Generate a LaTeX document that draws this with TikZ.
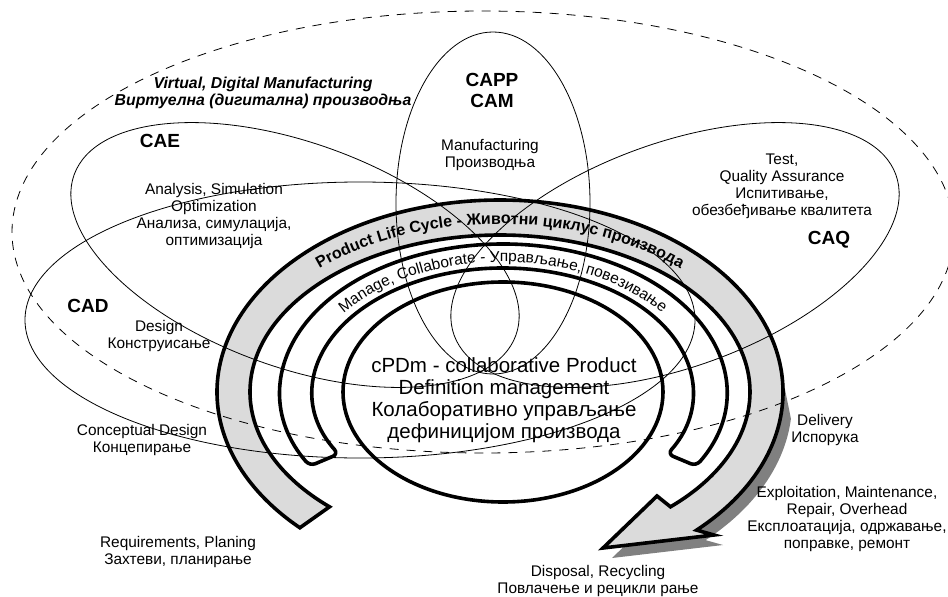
\documentclass[tikz,border=0pt]{standalone}
\usepackage{fontspec}
\setmainfont{Liberation Sans}
\usetikzlibrary{decorations.text}

\definecolor{bandgray}{gray}{0.86}
\definecolor{shadegray}{gray}{0.5}

\tikzset{
  zone/.style={line width=0.8pt},
  vzone/.style={line width=0.8pt, dash pattern=on 9pt off 8pt},
  ring/.style={line width=3.6pt},
  lbl/.style={align=center, inner sep=0pt, font=\fontsize{15.4}{16.9}\selectfont},
  sys/.style={align=center, inner sep=0pt, font=\fontsize{19}{21}\selectfont\bfseries},
}

\begin{document}
\begin{tikzpicture}[x=1pt, y=-1pt]
  \useasboundingbox (0,0) rectangle (948,597);
  \coordinate (lc) at (500,392);
  \coordinate (core) at (503,392);
  \coordinate (lcs) at (509,402);

  % shadow of the life cycle arrow
  \fill[shadegray]
    ([shift={(lc)}]-6:283 and 192)
    -- ([shift={(lcs)}]5:283 and 192) arc[start angle=5, end angle=46, x radius=283, y radius=192]
    -- (723,545) -- (612,558) -- (666,506)
    -- ([shift={(lc)}]35:266 and 174) -- ([shift={(lc)}]10:268 and 175) -- cycle;

  % life cycle arrow
  \draw[ring, fill=bandgray]
    ([shift={(lc)}]46:283 and 192) arc[start angle=46, end angle=-225, x radius=283, y radius=192]
    -- ([shift={(lc)}]-227:250 and 157) arc[start angle=-227, end angle=47, x radius=250, y radius=157]
    -- (657,496) -- (603,548) -- (714,535) -- cycle;

  % manage / collaborate ring
  \draw[ring, rounded corners=6pt]
    ([shift={(core)}]30:223 and 148) arc[start angle=30, end angle=-210, x radius=223, y radius=148]
    -- ([shift={(core)}]-210:190 and 124) arc[start angle=-210, end angle=30, x radius=190, y radius=124]
    -- cycle;

  % cPDm
  \draw[ring] (core) ellipse [x radius=160, y radius=110];

  % application areas
  \draw[vzone] (483,232) ellipse [x radius=471, y radius=221];
  \draw[zone] (360,320) ellipse [x radius=335, y radius=138];
  \draw[zone, rotate around={-20:(295,255)}] (295,255) ellipse [x radius=235, y radius=112];
  \draw[zone, rotate around={20:(675,255)}] (675,255) ellipse [x radius=235, y radius=112];
  \draw[zone] (493,203) ellipse [x radius=97, y radius=171];

  % curved texts
  \path[decorate, decoration={text along path, text align=center,
      text={|\fontsize{16}{16}\selectfont\bfseries|Product Life Cycle - Животни циклус производа}}]
    ([shift={(lc)}]-152:266 and 168) arc[start angle=-152, end angle=-28, x radius=266, y radius=168];
  \path[decorate, decoration={text along path, text align=center,
      text={|\fontsize{15.5}{15.5}\selectfont|Manage, Collaborate - Управљање, повезивање}}]
    ([shift={(core)}]-160:200 and 130) arc[start angle=-160, end angle=-20, x radius=200, y radius=130];

  % labels
  \node[font=\fontsize{15.8}{17}\selectfont\bfseries\itshape, align=center, inner sep=0pt] (virt) at (263,93)
    {Virtual, Digital Manufacturing\\Виртуелна (дигитална) производња};
  \node[sys] (cae) at (160,141) {CAE};
  \node[sys] (capp) at (492,90) {CAPP\\CAM};
  \node[lbl] (mfg) at (490,155) {Manufacturing\\Производња};
  \node[lbl] (ana) at (214,216) {Analysis, Simulation\\Optimization\\Анализа, симулација,\\оптимизација};
  \node[lbl] (test) at (782,186) {Test,\\Quality Assurance\\Испитивање,\\обезбеђивање квалитета};
  \node[sys] (caq) at (829,240) {CAQ};
  \node[sys] (cad) at (88,306) {CAD};
  \node[lbl] (des) at (159,336) {Design\\Конструисање};
  \node[lbl] (conc) at (142,440) {Conceptual Design\\Концепирање};
  \node[align=center, inner sep=0pt, font=\fontsize{20.5}{22}\selectfont] (cpdm) at (504,400)
    {cPDm - collaborative Product\\Definition management\\Колаборативно управљање\\дефиницијом производа};
  \node[lbl] (deliv) at (825,430) {Delivery\\Испорука};
  \node[lbl] (expl) at (847,519) {Exploitation, Maintenance,\\Repair, Overhead\\Експлоатација, одржавање,\\поправке, ремонт};
  \node[lbl] (req) at (178,552) {Requirements, Planing\\Захтеви, планирање};
  \node[lbl] (disp) at (598,581) {Disposal, Recycling\\Повлачење и рецикли рање};
\end{tikzpicture}
\end{document}
